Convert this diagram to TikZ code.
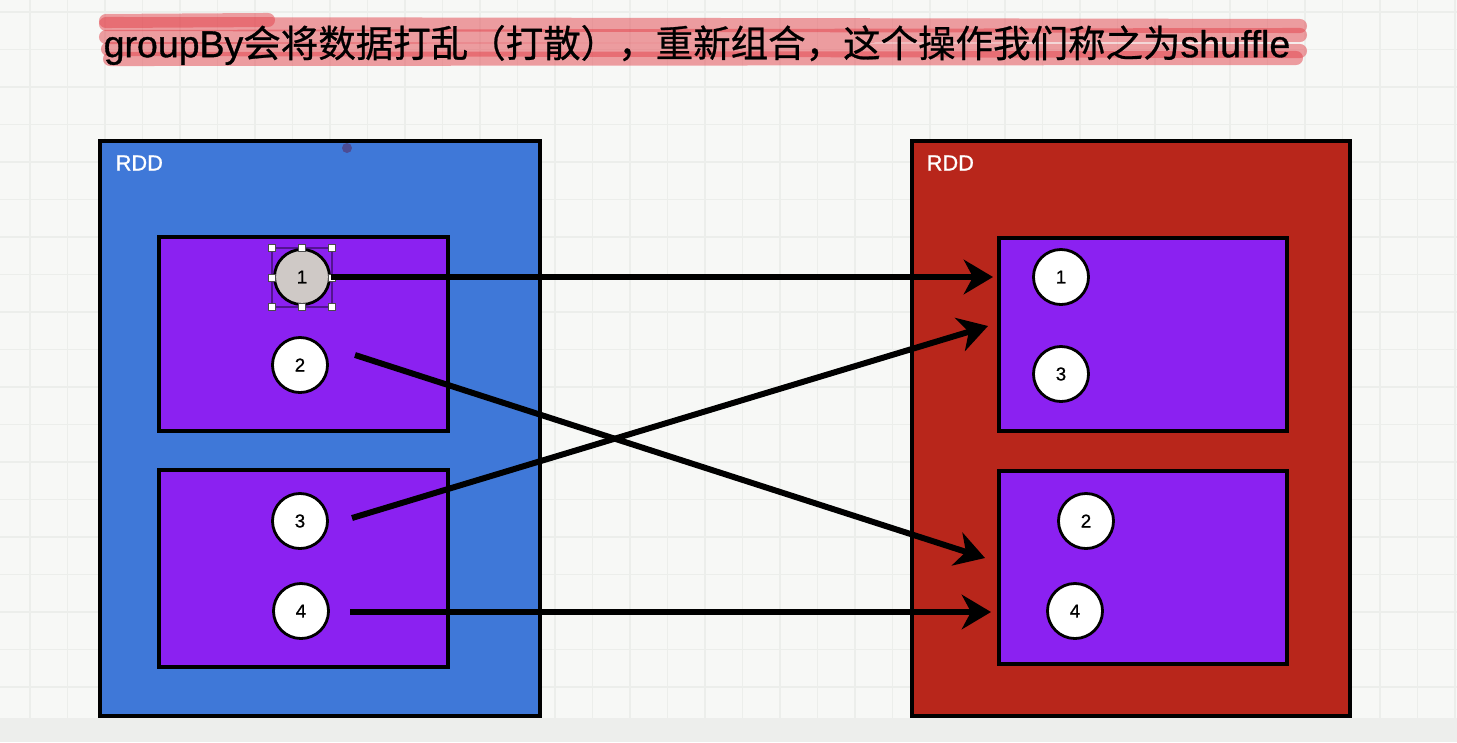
\documentclass[tikz,border=0pt]{standalone}
\usepackage{fontspec}
\setsansfont{Liberation Sans}
\newfontfamily\cjkfont[FakeBold=0.7]{Noto Sans CJK SC}
\newfontfamily\latinfont[FakeBold=0.9]{Liberation Sans}
\usetikzlibrary{arrows.meta,positioning}

\definecolor{rddblue}{HTML}{3F78D8}
\definecolor{rddred}{HTML}{B8261B}
\definecolor{partpurple}{HTML}{8B21F1}
\definecolor{selgray}{HTML}{CFC9C6}
\definecolor{paper}{HTML}{F7F8F6}
\definecolor{gridline}{HTML}{ECEEEB}
\definecolor{marker}{HTML}{E3414A}
\definecolor{bottomband}{HTML}{EDEEEC}

\tikzset{
  rddbox/.style={draw=black, line width=0.9pt, fill=#1},
  partbox/.style={draw=black, line width=0.9pt, fill=partpurple},
  numnode/.style={circle, draw=black, line width=0.8pt, fill=white,
    minimum size=0.55cm, inner sep=0pt, font=\latinfont\fontsize{5.3}{6}\selectfont},
  shufarrow/.style={-{Stealth[length=8.3pt,width=9.8pt,inset=2.6pt]}, line width=1.7pt},
  markstroke/.style={marker, opacity=0.5, line width=4pt, line cap=round},
  rddlabel/.style={anchor=west, inner sep=0pt, text=white, font=\latinfont\fontsize{6.2}{7}\selectfont}
}

\begin{document}
\begin{tikzpicture}[x=0.01cm,y=-0.01cm]
\useasboundingbox (0,0) rectangle (1457,742);
\fill[paper] (0,0) rectangle (1457,742);

% faint grid
\foreach \gx in {30,67.5,...,1457} \draw[gridline, line width=0.3pt] (\gx,0) -- (\gx,718);
\foreach \gy in {12,49.5,...,718} \draw[gridline, line width=0.3pt] (0,\gy) -- (1457,\gy);
\fill[bottomband] (0,718) rectangle (1457,742);

% title with marker strokes
\draw[markstroke] (106,21) -- (268,20);
\draw[markstroke] (106,24) -- (1300,26);
\draw[markstroke] (106,37) -- (1300,35);
\draw[markstroke] (108,49) -- (1300,51);
\draw[markstroke] (110,59) -- (1296,58);
\node (title) at (697,45) {\fontsize{10.66}{12}\selectfont{\latinfont groupBy}{\cjkfont 会将数据打乱（打散），重新组合，这个操作我们称之为}{\latinfont shuffle}};

% the two RDDs
\draw[rddbox=rddblue] (100,141) rectangle (540,716);
\draw[rddbox=rddred] (912,141) rectangle (1350,716);
\node[rddlabel] (rddl) at (115,163) {RDD};
\node[rddlabel] (rddr) at (926,163) {RDD};
\fill[black!60!blue!70] (347,148) circle (5);

% partitions
\draw[partbox] (159,237) rectangle (448,431);
\draw[partbox] (159,470) rectangle (448,667);
\draw[partbox] (999,238) rectangle (1287,431);
\draw[partbox] (999,471) rectangle (1287,664);

% selection frame round element 1
\draw[partpurple!60!black, line width=0.4pt] (272,248) rectangle (332,307);

% elements
\node[numnode, fill=selgray] (l1) at (302,277) {1};
\node[numnode] (l2) at (300,365) {2};
\node[numnode] (l3) at (300,521) {3};
\node[numnode] (l4) at (301,611) {4};
\node[numnode] (r1) at (1061,277) {1};
\node[numnode] (r3) at (1061,374) {3};
\node[numnode] (r2) at (1086,521) {2};
\node[numnode] (r4) at (1075,611) {4};

\foreach \hx in {272,302,332}
  \foreach \hy in {248,277.5,307}
    \filldraw[fill=white, draw=black!70, line width=0.2pt] (\hx-3.5,\hy-3.5) rectangle (\hx+3.5,\hy+3.5);
\fill[selgray] (l1.center) circle (20);
\node[font=\latinfont\fontsize{5.3}{6}\selectfont] (l1txt) at (l1) {1};

% shuffle connectors
\coordinate (s2) at (355,355);
\coordinate (s3) at (352,518);
\coordinate (s4) at (350,612);
\coordinate (e1) at (993,277);
\coordinate (e3) at (988,326);
\coordinate (e2) at (985,558);
\coordinate (e4) at (991,612);
\draw[shufarrow] (l1.east) -- (e1);
\draw[shufarrow] (s2) -- (e2);
\draw[shufarrow] (s3) -- (e3);
\draw[shufarrow] (s4) -- (e4);
\end{tikzpicture}
\end{document}
